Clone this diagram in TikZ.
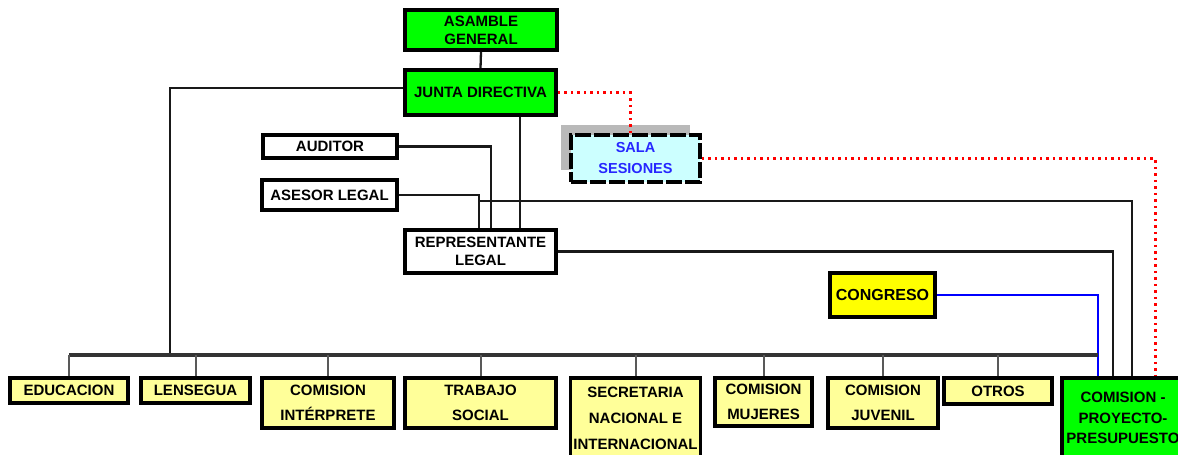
\documentclass[tikz,border=0pt]{standalone}
\usepackage{fontspec}
\setmainfont{Liberation Sans}
\begin{document}
\begin{tikzpicture}[x=1pt, y=-1pt]
        \def\bus{355}
        \definecolor{verde}{HTML}{00FF00}
        \definecolor{amarillo}{HTML}{FFFF00}
        \definecolor{crema}{HTML}{FFFF99}
        \definecolor{celeste}{HTML}{CCFFFF}
        \tikzstyle{box}=[draw=black, line width=3.8pt, inner sep=0pt, align=center,
            font=\bfseries\fontsize{15}{18}\selectfont]
        \tikzstyle{top}=[box, fill=verde]
        \tikzstyle{plain}=[box, fill=white]
        \tikzstyle{unit}=[box, fill=crema, font=\bfseries\fontsize{15}{25}\selectfont]
        \tikzstyle{conn}=[black!90, line width=2.3pt]
        \tikzstyle{drop}=[black!65, line width=2pt]
        \tikzstyle{dots}=[red, line width=3pt, dash pattern=on 2.5pt off 4pt]

        \useasboundingbox (0,0) rectangle (1178,455);
        \clip (0,0) rectangle (1178,455);

        % Top
        \draw node at (481, 30) [top, minimum width=152, minimum height=40] (asamblea) {ASAMBLE\\GENERAL};
        \draw node at (480.5, 92.5) [top, minimum width=151, minimum height=45] (junta) {JUNTA DIRECTIVA};

        % Sala
        \fill [gray!55] (561,125) rectangle (690,170);
        \draw node at (635.5, 158.5) [box, fill=celeste, text=blue!85!white, dash pattern=on 16pt off 3pt,
            minimum width=129, minimum height=47, font=\bfseries\fontsize{14.5}{21}\selectfont] (sala) {SALA\\SESIONES};

        % Staff
        \draw node at (330, 146.5) [plain, minimum width=134, minimum height=23] (auditor) {AUDITOR};
        \draw node at (329.5, 195) [plain, minimum width=135, minimum height=30] (asesor) {ASESOR LEGAL};
        \draw node at (480.5, 251.5) [plain, minimum width=151, minimum height=43] (rep) {REPRESENTANTE\\LEGAL};

        % Congreso
        \draw node at (882.5, 295) [box, fill=amarillo, minimum width=105, minimum height=44,
            font=\bfseries\fontsize{16}{18}\selectfont] (congreso) {CONGRESO};
        \draw node at (1123, 418) [top, minimum width=122, minimum height=80,
            font=\bfseries\fontsize{15}{20.5}\selectfont] (proyecto) {COMISION -\\PROYECTO-\\PRESUPUESTO};

        % Units
        \draw node at (69, 390.5) [unit, minimum width=118, minimum height=25] (educ) {EDUCACION};
        \draw node at (195.5, 390.5) [unit, minimum width=109, minimum height=25] (lensegua) {LENSEGUA};
        \draw node at (328, 403) [unit, minimum width=132, minimum height=50] (interprete) {COMISION\\INTÉRPRETE};
        \draw node at (480.5, 403) [unit, minimum width=151, minimum height=50] (trabajo) {TRABAJO\\SOCIAL};
        \draw node at (635.5, 418) [unit, minimum width=130, minimum height=80,
            font=\bfseries\fontsize{15}{26}\selectfont] (secretaria) {SECRETARIA\\NACIONAL E\\INTERNACIONAL};
        \draw node at (763.5, 402) [unit, minimum width=97, minimum height=48] (mujeres) {COMISION\\MUJERES};
        \draw node at (883, 403) [unit, minimum width=110, minimum height=50] (juvenil) {COMISION\\JUVENIL};
        \draw node at (998, 391) [unit, minimum width=108, minimum height=26] (otros) {OTROS};

        \coordinate (jleft) at (170, 88);
        \coordinate (busL) at (69, \bus);
        \coordinate (busR) at (1098, \bus);

        % Lines
        \draw [conn] (asamblea.south) -- (junta.north);
        \draw [conn] (junta.west |- jleft) -- (jleft) -- (jleft |- busL);
        \draw [conn] ([xshift=39.5]junta.south) -- ([xshift=39.5]rep.north);
        \draw [conn] (auditor.east) -| ([xshift=10.5]rep.north);
        \draw [conn] (asesor.east) -| ([xshift=-1.5]rep.north);
        \draw [conn] ([xshift=-1.5]rep.north |- 0,201) -| ([xshift=9]proyecto.north);
        \draw [conn] (rep.east) -| ([xshift=-10]proyecto.north);
        \draw [blue, line width=2.2pt] (congreso.east) -| ([xshift=-25]proyecto.north);
        \draw [dots] (junta.east) -| ([xshift=-5.5]sala.north);
        \draw [dots] (sala.east) -| ([xshift=32]proyecto.north);

        % Bus
        \draw [black!80, line width=3.2pt] (busL) -- (busR);
        \foreach \n in {educ,lensegua,interprete,trabajo,secretaria,mujeres,juvenil,otros}
            \draw [drop] (\n.north) -- (\n.north |- busL);

    \end{tikzpicture}
\end{document}
